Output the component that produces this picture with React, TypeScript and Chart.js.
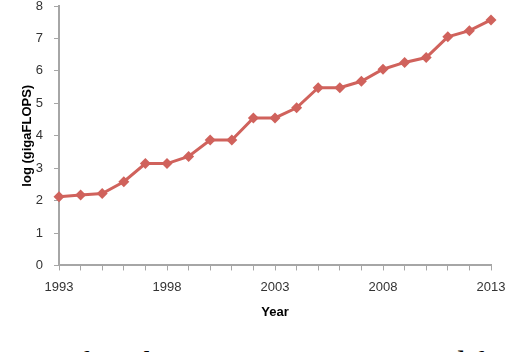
import React, { useEffect, useRef } from "react";
import { Chart, registerables } from "chart.js";

Chart.register(...registerables);

const years: number[] = [1993, 1994, 1995, 1996, 1997, 1998, 1999, 2000, 2001, 2002, 2003, 2004, 2005, 2006, 2007, 2008, 2009, 2010, 2011, 2012, 2013];
const logGigaflops: number[] = [2.12, 2.17, 2.22, 2.58, 3.14, 3.14, 3.36, 3.87, 3.87, 4.55, 4.55, 4.86, 5.48, 5.48, 5.68, 6.05, 6.26, 6.41, 7.05, 7.24, 7.57];
const xLabelYears: number[] = [1993, 1998, 2003, 2008, 2013];
const yTicks: number[] = [0, 1, 2, 3, 4, 5, 6, 7, 8];
const xTitle = "Year";
const yTitle = "log (gigaFLOPS)";
const caption = "Log of Peak Supercomputing Speed for";

const lineColor = "#d0625c";
const axisColor = "#a6a6a6";

export default function App() {
  const canvasRef = useRef<HTMLCanvasElement | null>(null);

  useEffect(() => {
    if (!canvasRef.current) return;
    const chart = new Chart(canvasRef.current, {
      type: "line",
      data: {
        datasets: [
          {
            data: years.map((y, i) => ({ x: y, y: logGigaflops[i] })),
            borderColor: lineColor,
            backgroundColor: lineColor,
            borderWidth: 3,
            pointStyle: "rectRot",
            pointRadius: 5.5,
            pointBorderWidth: 0,
            pointBackgroundColor: lineColor,
            tension: 0,
            clip: false,
          },
        ],
      },
      options: {
        animation: false,
        responsive: true,
        maintainAspectRatio: false,
        layout: { autoPadding: false, padding: { left: 0, right: 15, top: 6, bottom: 7 } },
        plugins: { legend: { display: false }, tooltip: { enabled: false } },
        scales: {
          x: {
            type: "linear",
            min: years[0],
            max: years[years.length - 1],
            afterFit: (s: any) => {
              s.paddingLeft = 0;
              s.paddingRight = 0;
            },
            ticks: {
              stepSize: 1,
              autoSkip: false,
              maxRotation: 0,
              padding: 11,
              color: "#333",
              font: { family: "'Liberation Sans', Arial", size: 13, lineHeight: 0.92 },
              callback: (v: any) => (xLabelYears.includes(Number(v)) ? String(v) : ""),
            },
            grid: { drawOnChartArea: false, drawTicks: true, tickLength: 5, color: axisColor, lineWidth: 1 },
            border: { display: true, color: axisColor, width: 2 },
            title: {
              display: true,
              text: xTitle,
              color: "#000",
              font: { family: "'Liberation Sans', Arial", size: 13, weight: "bold" },
              padding: { top: 0, bottom: 3 },
            },
          },
          y: {
            type: "linear",
            min: yTicks[0],
            max: yTicks[yTicks.length - 1],
            afterFit: (s: any) => {
              s.width = 59;
              s.paddingTop = 0;
              s.paddingBottom = 0;
            },
            ticks: {
              stepSize: 1,
              padding: 11,
              color: "#333",
              font: { family: "'Liberation Sans', Arial", size: 13, lineHeight: 0.92 },
            },
            grid: { drawOnChartArea: false, drawTicks: true, tickLength: 5, color: axisColor, lineWidth: 1 },
            border: { display: true, color: axisColor, width: 2 },
            title: {
              display: true,
              text: yTitle,
              color: "#000",
              font: { family: "'Liberation Sans', Arial", size: 13, weight: "bold" },
              padding: { top: 20, bottom: 0 },
            },
          },
        },
      },
    });
    return () => chart.destroy();
  }, []);

  return (
    <div style={{ position: "absolute", left: 0, top: 0, width: 506, height: 352, overflow: "hidden", background: "#fff" }}>
      <div style={{ position: "absolute", left: 0, top: 0, width: 506, height: 330 }}>
        <canvas ref={canvasRef} />
      </div>
      <div
        style={{
          position: "absolute",
          left: 3,
          top: 346,
          fontFamily: "'Liberation Serif', 'Times New Roman', serif",
          fontSize: 32,
          lineHeight: "32px",
          whiteSpace: "nowrap",
          color: "#000",
        }}
      >
        {caption}
      </div>
    </div>
  );
}
